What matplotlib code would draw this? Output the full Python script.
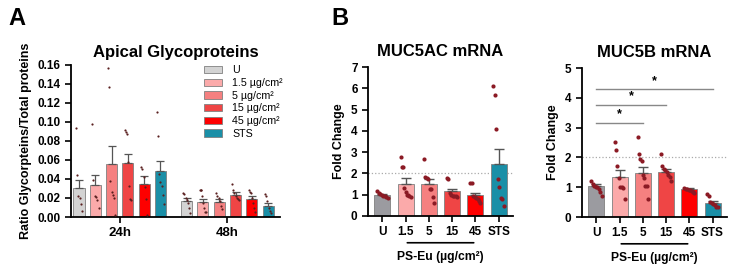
import numpy as np
import matplotlib
matplotlib.use("Agg")
import matplotlib.pyplot as plt
from matplotlib.patches import Patch

plt.rcParams['font.family'] = ['Liberation Sans', 'DejaVu Sans']

# ---- data ----
groups = ["U", "1.5", "5", "15", "45", "STS"]
legend_labels = ["U", "1.5 µg/cm²", "5 µg/cm²", "15 µg/cm²", "45 µg/cm²", "STS"]
colors_a = ["#d3d3d3", "#fbaaaa", "#f58080", "#ef4545", "#fe0000", "#1a8fa7"]
colors_b = ["#9b9ba0", "#fbaaaa", "#f58080", "#ef4545", "#fe0000", "#1a8fa7"]

glyco_24_mean = [0.0305, 0.034, 0.0558, 0.0564, 0.035, 0.0483]
glyco_24_sem = [0.0085, 0.0097, 0.0185, 0.0096, 0.0085, 0.0106]
glyco_48_mean = [0.0172, 0.0160, 0.0162, 0.0233, 0.019, 0.012]
glyco_48_sem = [0.0033, 0.0032, 0.0025, 0.0025, 0.003, 0.0028]
glyco_24_pts = [
    [0.0935, 0.0445, 0.0217, 0.020, 0.014, 0.0066],
    [0.098, 0.039, 0.022, 0.021, 0.018, 0.010],
    [0.157, 0.137, 0.038, 0.026, 0.023, 0.020, 0.002],
    [0.0916, 0.089, 0.087, 0.058, 0.033, 0.019, 0.018],
    [0.053, 0.051, 0.042, 0.032, 0.019, 0.002],
    [0.111, 0.085, 0.045, 0.037, 0.033, 0.023, 0.014],
]
glyco_48_pts = [
    [0.025, 0.024, 0.020, 0.018, 0.015, 0.010, 0.004],
    [0.028, 0.028, 0.028, 0.022, 0.015, 0.010, 0.005, 0.005],
    [0.025, 0.022, 0.020, 0.017, 0.012, 0.008],
    [0.035, 0.028, 0.025, 0.022, 0.020, 0.019, 0.018],
    [0.028, 0.026, 0.025, 0.020, 0.015, 0.010, 0.005],
    [0.024, 0.022, 0.017, 0.010, 0.006, 0.004],
]

muc5ac_mean = [0.99, 1.50, 1.50, 1.16, 0.97, 2.44]
muc5ac_sem = [0.06, 0.27, 0.23, 0.12, 0.13, 0.73]
muc5ac_pts = [
    [1.15, 1.08, 1.02, 0.98, 0.95, 0.92, 0.88, 0.85],
    [2.75, 2.30, 2.30, 1.33, 1.14, 0.99, 0.99, 0.95, 0.90],
    [2.69, 1.85, 1.77, 1.72, 1.26, 1.26, 0.90, 0.62],
    [1.77, 1.75, 1.10, 0.98, 0.95, 0.95, 0.92, 0.90],
    [1.55, 1.53, 0.95, 0.90, 0.85, 0.78, 0.70, 0.62],
    [6.10, 5.68, 4.08, 1.73, 1.38, 0.86, 0.80, 0.47],
]

muc5b_mean = [1.04, 1.35, 1.47, 1.52, 0.93, 0.47]
muc5b_sem = [0.06, 0.23, 0.22, 0.08, 0.03, 0.08]
muc5b_pts = [
    [1.20, 1.10, 1.05, 1.02, 1.00, 0.95, 0.85, 0.72],
    [2.53, 2.25, 1.71, 1.30, 1.00, 1.00, 0.98, 0.62],
    [2.70, 2.13, 1.96, 1.88, 1.40, 1.30, 1.05, 1.05, 0.62],
    [2.10, 1.70, 1.62, 1.58, 1.50, 1.40, 1.35, 1.20],
    [0.97, 0.95, 0.93, 0.92, 0.90, 0.88, 0.85, 0.80],
    [0.78, 0.70, 0.52, 0.48, 0.45, 0.40, 0.35, 0.32],
]
muc5b_sig = [(0, 2, 3.17), (0, 3, 3.76), (0, 5, 4.29)]

edge = "#808080"
err_c = "#555555"


def spread(n, w):
    return np.linspace(-w, w, n) if n > 1 else np.zeros(1)


def style_axes(ax, xsize=8.5):
    for s in ["top", "right"]:
        ax.spines[s].set_visible(False)
    for s in ["left", "bottom"]:
        ax.spines[s].set_linewidth(1.3)
    ax.tick_params(width=1.2, length=4, labelsize=8.5)
    ax.tick_params(axis="x", labelsize=xsize)
    for lab in ax.get_yticklabels() + ax.get_xticklabels():
        lab.set_fontweight("bold")


fig = plt.figure(figsize=(7.34, 2.64), dpi=100)

# ---- panel A ----
ax = fig.add_axes([0.0967, 0.178, 0.2848, 0.576])
xa = np.arange(6)
for gi, (means, sems, pts) in enumerate([(glyco_24_mean, glyco_24_sem, glyco_24_pts),
                                        (glyco_48_mean, glyco_48_sem, glyco_48_pts)]):
    xs = xa + gi * 6.6
    ax.bar(xs, means, width=0.68, color=colors_a, edgecolor=edge, linewidth=0.6, zorder=2)
    ax.errorbar(xs, means, yerr=[np.zeros(6), sems], fmt="none", ecolor=err_c,
                elinewidth=0.9, capsize=3, capthick=0.9, zorder=3)
    for i, p in enumerate(pts):
        ax.scatter(xs[i] + spread(len(p), 0.2), p, s=2.5, color="#5a1f1f", zorder=4, linewidths=0)
ax.set_xlim(-0.49, 12.33)
ax.set_ylim(0, 0.16)
ax.set_yticks(np.arange(0, 0.161, 0.02))
ax.yaxis.set_major_formatter(matplotlib.ticker.FormatStrFormatter("%.2f"))
ax.set_xticks([2.5, 9.1])
ax.set_xticklabels(["24h", "48h"])
ax.set_ylabel("Ratio Glycorpteins/Total proteins", fontsize=9, fontweight="bold")
ax.set_title("Apical Glycoproteins", fontsize=12, fontweight="bold", pad=6)
style_axes(ax, xsize=9.5)
handles = [Patch(facecolor=c, edgecolor=edge, linewidth=0.6) for c in colors_a]
ax.legend(handles, legend_labels, loc="upper right", bbox_to_anchor=(1.06, 1.06), frameon=False,
          fontsize=7.7, handlelength=1.7, handleheight=0.7, labelspacing=0.25, handletextpad=1.0)


# ---- panel B ----
def mrna_panel(rect, means, sems, pts, ymax, title):
    ax = fig.add_axes(rect)
    x = np.arange(6)
    ax.bar(x, means, width=0.69, color=colors_b, edgecolor=edge, linewidth=0.6, zorder=2)
    ax.errorbar(x, means, yerr=[np.zeros(6), sems], fmt="none", ecolor=err_c,
                elinewidth=1.0, capsize=3.5, capthick=1.0, zorder=3)
    for i, p in enumerate(pts):
        ax.scatter(x[i] + spread(len(p), 0.22), p, s=9, color="#8b1a24", zorder=4, linewidths=0)
    ax.axhline(2, color="#aaaaaa", linestyle=":", linewidth=0.9, zorder=1)
    ax.set_xlim(-0.62, 5.62)
    ax.set_ylim(0, ymax)
    ax.set_yticks(np.arange(0, ymax + 1))
    ax.set_xticks(x)
    ax.set_xticklabels(groups)
    ax.set_ylabel("Fold Change", fontsize=9, fontweight="bold")
    ax.set_title(title, fontsize=12, fontweight="bold", pad=8)
    style_axes(ax)
    # PS-Eu bracket under the x labels
    ax.annotate("", xy=(0.95, -0.18), xytext=(4.05, -0.18), xycoords=("data", "axes fraction"),
                arrowprops=dict(arrowstyle="-", color="black", lw=1.2), annotation_clip=False)
    ax.text(2.5, -0.235, "PS-Eu (µg/cm²)", transform=ax.get_xaxis_transform(),
            ha="center", va="top", fontsize=8.7, fontweight="bold")
    return ax


mrna_panel([0.5014, 0.182, 0.1975, 0.564], muc5ac_mean, muc5ac_sem, muc5ac_pts, 7, "MUC5AC mRNA")
axb = mrna_panel([0.7929, 0.178, 0.1975, 0.564], muc5b_mean, muc5b_sem, muc5b_pts, 5, "MUC5B mRNA")
for a, b, y in muc5b_sig:
    axb.plot([a, b], [y, y], color="#888888", lw=1.0)
    axb.text((a + b) / 2, y + 0.08, "*", ha="center", va="bottom", fontsize=9, fontweight="bold")

fig.text(0.012, 0.975, "A", fontsize=17, fontweight="bold", va="top")
fig.text(0.452, 0.975, "B", fontsize=17, fontweight="bold", va="top")

fig.savefig("out.png", dpi=100)
